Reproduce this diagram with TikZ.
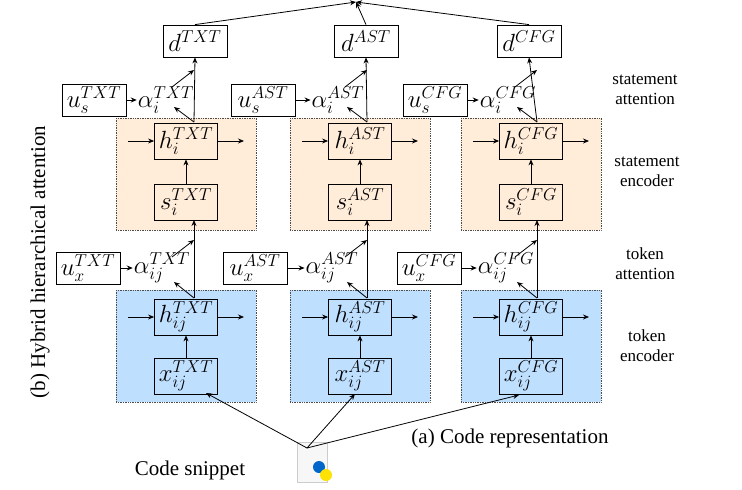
\documentclass[tikz,border=0pt]{standalone}
\usepackage{fontspec}
\setmainfont{Liberation Serif}
\usetikzlibrary{arrows.meta}
\begin{document}
\begin{tikzpicture}[x=1pt,y=-1pt,
 bx/.style={draw,line width=0.8pt,minimum width=63pt,minimum height=36pt,inner sep=0pt,font=\fontsize{25}{25}\selectfont},
 ub/.style={bx,minimum width=64pt,minimum height=32pt},
 al/.style={inner sep=1pt,font=\fontsize{24}{24}\selectfont},
 pink/.style={draw=black!70,densely dotted,fill=orange!15,line width=0.7pt},
 blue/.style={draw=black!70,densely dotted,fill=blue!50!cyan!25,line width=0.7pt},
 ar/.style={-{Stealth[length=6pt,width=5pt]},line width=0.8pt},
 rl/.style={font=\fontsize{17}{20}\selectfont,align=center}]
\useasboundingbox (0,0) rectangle (742,490);
\foreach \c/\xc/\t in {t/186/TXT,a/360/AST,c/531/CFG}{
 \filldraw[pink] (\xc-70,118) rectangle (\xc+70,230);
 \filldraw[blue] (\xc-70,290) rectangle (\xc+70,402);
 \node[bx] (h\c) at (\xc,141) {$h_i^{\t}$};
 \node[bx] (s\c) at (\xc,202) {$s_i^{\t}$};
 \node[bx] (hh\c) at (\xc,317) {$h_{ij}^{\t}$};
 \node[bx] (x\c) at (\xc,376) {$x_{ij}^{\t}$};
 \coordinate (li\c) at (\xc-58,141); \coordinate (ri\c) at (\xc+58,141);
 \coordinate (lj\c) at (\xc-58,317); \coordinate (rj\c) at (\xc+58,317);
 \draw[ar] (li\c) -- (h\c.west); \draw[ar] (h\c.east) -- (ri\c);
 \draw[ar] (lj\c) -- (hh\c.west); \draw[ar] (hh\c.east) -- (rj\c);
 \draw[ar] (s\c) -- (h\c); \draw[ar] (x\c) -- (hh\c);
}
\node[bx,minimum width=64pt,minimum height=32pt] (dt) at (195,41) {$d^{TXT}$};
\node[bx,minimum width=64pt,minimum height=32pt] (da) at (366,41) {$d^{AST}$};
\node[bx,minimum width=64pt,minimum height=32pt] (dc) at (529,41) {$d^{CFG}$};
\node[ub] (ust) at (94,100) {$u_s^{TXT}$};
\node[ub] (usa) at (263,100) {$u_s^{AST}$};
\node[ub] (usc) at (435,100) {$u_s^{CFG}$};
\node[al] (ait) at (166,100) {$\alpha_i^{TXT}$};
\node[al] (aia) at (338,100) {$\alpha_i^{AST}$};
\node[al] (aic) at (508,100) {$\alpha_i^{CFG}$};
\node[ub] (uxt) at (88,268) {$u_x^{TXT}$};
\node[ub] (uxa) at (255,268) {$u_x^{AST}$};
\node[ub] (uxc) at (429,268) {$u_x^{CFG}$};
\node[al] (ajt) at (162,268) {$\alpha_{ij}^{TXT}$};
\node[al] (aja) at (332,268) {$\alpha_{ij}^{AST}$};
\node[al] (ajc) at (506,268) {$\alpha_{ij}^{CFG}$};
\foreach \u/\a in {ust/ait,usa/aia,usc/aic,uxt/ajt,uxa/aja,uxc/ajc}{\draw[ar] (\u.east) -- (\a.west);}
\foreach \c/\xl/\d/\ai/\aj in {t/194/dt/ait/ajt,a/367/da/aia/aja,c/537/dc/aic/ajc}{
 \coordinate (p1\c) at (\xl,122); \coordinate (p2\c) at (\xl,70);
 \coordinate (p3\c) at (\xl,298); \coordinate (p4\c) at (\xl,220);
 \coordinate (p5\c) at (\xl,240);
 \coordinate (q1\c) at (\xl-20,107); \coordinate (q2\c) at (\xl-22,87);
 \coordinate (q3\c) at (\xl-20,282); \coordinate (q4\c) at (\xl-22,257);
 \draw[ar] (p1\c) -- (\d.south);
 \draw[ar] (p1\c) -- (q1\c);
 \draw[ar] (q2\c) -- (p2\c);
 \draw[ar] (p3\c) -- (p4\c);
 \draw[ar] (p3\c) -- (q3\c);
 \draw[ar] (q4\c) -- (p5\c);
}
\coordinate (top) at (356,2);
\draw[ar] (dt.north) -- (top); \draw[ar] (da.north) -- (top); \draw[ar] (dc.north) -- (top);
\node[draw=black!20,fill=black!3,minimum width=30pt,minimum height=40pt,inner sep=0pt] (py) at (312,462) {};
\fill[blue!50!cyan!80!black] (319,467) circle (6pt);
\fill[yellow!85!orange] (326,475) circle (6pt);
\coordinate (o) at (307,448);
\draw[ar] (o) -- (206,393);
\draw[ar] (o) -- (355,394);
\draw[ar] (o) -- (519,395);
\node[font=\fontsize{21}{21}\selectfont] (cs) at (190,470) {Code snippet};
\node[font=\fontsize{21}{21}\selectfont] (cr) at (510,438) {(a) Code representation};
\node[rotate=90,font=\fontsize{21}{21}\selectfont] (hb) at (40,262) {(b) Hybrid hierarchical attention};
\node[rl] at (645,90) {statement\\attention};
\node[rl] at (647,172) {statement\\encoder};
\node[rl] at (645,264) {token\\attention};
\node[rl] at (647,346) {token\\encoder};
\end{tikzpicture}
\end{document}
